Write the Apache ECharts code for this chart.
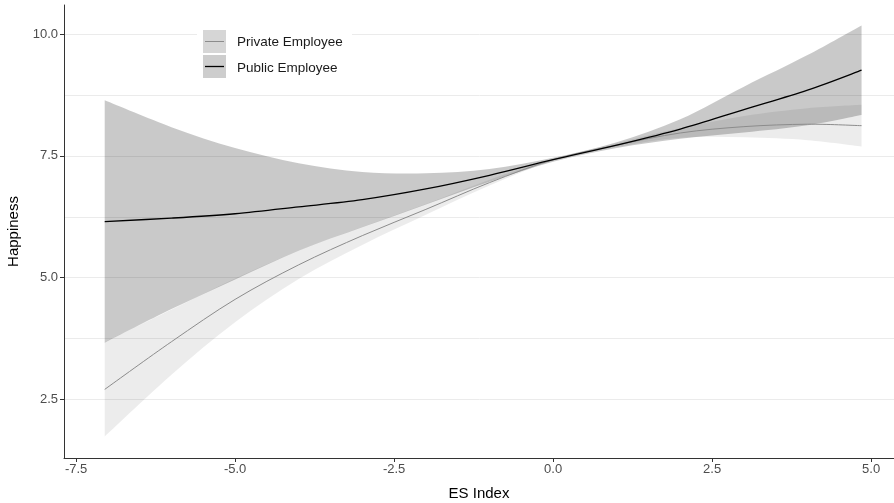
<!DOCTYPE html>
<html>
<head>
<meta charset="utf-8">
<script src="https://cdn.jsdelivr.net/npm/echarts@6/dist/echarts.min.js"></script>
<style>
  html, body { margin: 0; padding: 0; background: #fff; }
  #chart { width: 894px; height: 503px; }
</style>
</head>
<body>
<div id="chart"></div>
<script>
// ES Index grid where the fitted curves are evaluated
const esIndex = [-7.05, -6, -5, -4, -3, -2, -1, 0, 1, 2, 3, 4, 4.85];

// Public employees: fitted happiness and confidence band
const publicFit   = [6.15, 6.22, 6.31, 6.45, 6.60, 6.82, 7.10, 7.42, 7.72, 8.05, 8.45, 8.85, 9.26];
const publicLower = [3.66, 4.35, 4.96, 5.55, 6.03, 6.50, 6.97, 7.38, 7.66, 7.85, 7.98, 8.13, 8.34];
const publicUpper = [8.64, 8.09, 7.66, 7.35, 7.17, 7.14, 7.23, 7.46, 7.78, 8.25, 8.92, 9.57, 10.18];

// Private employees: fitted happiness and confidence band
const privateFit   = [2.70, 3.68, 4.55, 5.26, 5.86, 6.40, 6.95, 7.42, 7.72, 7.97, 8.10, 8.15, 8.12];
const privateLower = [1.73, 3.00, 4.08, 4.97, 5.67, 6.29, 6.89, 7.40, 7.68, 7.87, 7.88, 7.82, 7.69];
const privateUpper = [3.67, 4.34, 4.98, 5.55, 6.04, 6.51, 7.01, 7.44, 7.76, 8.07, 8.32, 8.48, 8.55];

// Axis ticks and horizontal guide lines
const xTicks = [-7.5, -5.0, -2.5, 0.0, 2.5, 5.0];
const yTicks = [2.5, 5.0, 7.5, 10.0];
const yGuides = [2.5, 3.75, 5.0, 6.25, 7.5, 8.75, 10.0];

const seriesNames = ['Private Employee', 'Public Employee'];

const FONT = 'Liberation Sans, Arial, sans-serif';
const pairs = (ys) => esIndex.map((x, i) => [x, ys[i]]);

// Catmull-Rom spline through pixel points, as cubic Bezier path commands
function splineCommands(pts) {
  let d = '';
  for (let i = 0; i < pts.length - 1; i++) {
    const p0 = pts[Math.max(i - 1, 0)];
    const p1 = pts[i];
    const p2 = pts[i + 1];
    const p3 = pts[Math.min(i + 2, pts.length - 1)];
    const c1 = [p1[0] + (p2[0] - p0[0]) / 6, p1[1] + (p2[1] - p0[1]) / 6];
    const c2 = [p2[0] - (p3[0] - p1[0]) / 6, p2[1] - (p3[1] - p1[1]) / 6];
    d += ' C' + c1[0] + ',' + c1[1] + ' ' + c2[0] + ',' + c2[1] + ' ' + p2[0] + ',' + p2[1];
  }
  return d;
}

// Confidence ribbon: one closed path between the lower and upper curves
function ribbon(name, lo, hi, color, z) {
  return {
    name: name + ' band',
    type: 'custom',
    coordinateSystem: 'cartesian2d',
    data: pairs(lo),
    encode: { x: 0, y: 1 },
    silent: true, z, animation: false, clip: true,
    renderItem: (params, api) => {
      if (params.dataIndex !== 0) return null;
      const up = esIndex.map((x, i) => api.coord([x, hi[i]]));
      const dn = esIndex.map((x, i) => api.coord([x, lo[i]])).reverse();
      const d = 'M' + up[0][0] + ',' + up[0][1] + splineCommands(up) +
                ' L' + dn[0][0] + ',' + dn[0][1] + splineCommands(dn) + ' Z';
      return { type: 'path', shape: { pathData: d }, style: { fill: color, stroke: null } };
    }
  };
}

// Fitted curve drawn with the same spline as the ribbons
function fitLine(name, ys, color, width, z) {
  return {
    name,
    type: 'custom',
    coordinateSystem: 'cartesian2d',
    data: pairs(ys),
    encode: { x: 0, y: 1 },
    silent: true, z, animation: false,
    renderItem: (params, api) => {
      if (params.dataIndex !== 0) return null;
      const pts = esIndex.map((x, i) => api.coord([x, ys[i]]));
      const d = 'M' + pts[0][0] + ',' + pts[0][1] + splineCommands(pts);
      return { type: 'path', shape: { pathData: d }, style: { fill: null, stroke: color, lineWidth: width } };
    }
  };
}

// Horizontal guide lines spanning the plotting area, beneath the ribbons
const guides = {
  name: 'guides',
  type: 'custom',
  coordinateSystem: 'cartesian2d',
  data: yGuides.map(v => [0, v]),
  encode: { x: 0, y: 1 },
  silent: true, z: 1, animation: false,
  renderItem: (params, api) => {
    const cs = params.coordSys;
    const y = Math.round(api.coord([0, api.value(1)])[1]) + 0.5;
    return {
      type: 'line',
      shape: { x1: cs.x + 1, y1: y, x2: cs.x + cs.width, y2: y },
      style: { stroke: '#ebebeb', lineWidth: 1 }
    };
  }
};

const chart = echarts.init(document.getElementById('chart'), null, { renderer: 'canvas' });

chart.setOption({
  animation: false,
  backgroundColor: '#ffffff',
  grid: { left: 64, right: 0, top: 5, bottom: 45, outerBoundsMode: 'none', containLabel: false },
  xAxis: {
    type: 'value', min: -7.69, max: 5.36,
    name: 'ES Index', nameLocation: 'middle', nameGap: 28,
    nameTextStyle: { color: '#000', fontSize: 15, fontFamily: FONT },
    axisLine: { show: true, onZero: false, lineStyle: { color: '#333', width: 1 } },
    axisTick: { show: true, length: 4, customValues: xTicks, lineStyle: { color: '#333' } },
    axisLabel: { customValues: xTicks, color: '#4d4d4d', fontSize: 13, fontFamily: FONT, margin: 5,
                 formatter: v => v.toFixed(1) },
    splitLine: { show: false }
  },
  yAxis: {
    type: 'value', min: 1.29, max: 10.6,
    name: 'Happiness', nameLocation: 'middle', nameGap: 37, nameRotate: 90,
    nameTextStyle: { color: '#000', fontSize: 15, fontFamily: FONT },
    axisLine: { show: true, onZero: false, lineStyle: { color: '#333', width: 1 } },
    axisTick: { show: true, length: 4, customValues: yTicks, lineStyle: { color: '#333' } },
    axisLabel: { customValues: yTicks, color: '#4d4d4d', fontSize: 13, fontFamily: FONT, margin: 6,
                 formatter: v => v.toFixed(1) },
    splitLine: { show: false }
  },
  series: [
    guides,
    ribbon(seriesNames[0], privateLower, privateUpper, 'rgba(0,0,0,0.075)', 2),
    ribbon(seriesNames[1], publicLower, publicUpper, 'rgba(0,0,0,0.21)', 2),
    fitLine(seriesNames[0], privateFit, '#8c8c8c', 1, 3),
    fitLine(seriesNames[1], publicFit, '#000', 1.3, 4)
  ],
  // legend box with ribbon-style keys
  graphic: [
    { type: 'rect', z: 100, shape: { x: 197, y: 25, width: 155, height: 58 }, style: { fill: '#fff' } },
    { type: 'rect', z: 101, shape: { x: 203, y: 30, width: 23, height: 23 }, style: { fill: '#d6d6d6' } },
    { type: 'line', z: 102, shape: { x1: 205, y1: 41.5, x2: 224, y2: 41.5 }, style: { stroke: '#8c8c8c', lineWidth: 1 } },
    { type: 'text', z: 102, x: 237, y: 42, style: { text: seriesNames[0], fill: '#1a1a1a', font: '13.5px ' + FONT, verticalAlign: 'middle' } },
    { type: 'rect', z: 101, shape: { x: 203, y: 55, width: 23, height: 23 }, style: { fill: '#cdcdcd' } },
    { type: 'line', z: 102, shape: { x1: 205, y1: 66.5, x2: 224, y2: 66.5 }, style: { stroke: '#000', lineWidth: 1.3 } },
    { type: 'text', z: 102, x: 237, y: 68, style: { text: seriesNames[1], fill: '#1a1a1a', font: '13.5px ' + FONT, verticalAlign: 'middle' } }
  ]
});
</script>
</body>
</html>
